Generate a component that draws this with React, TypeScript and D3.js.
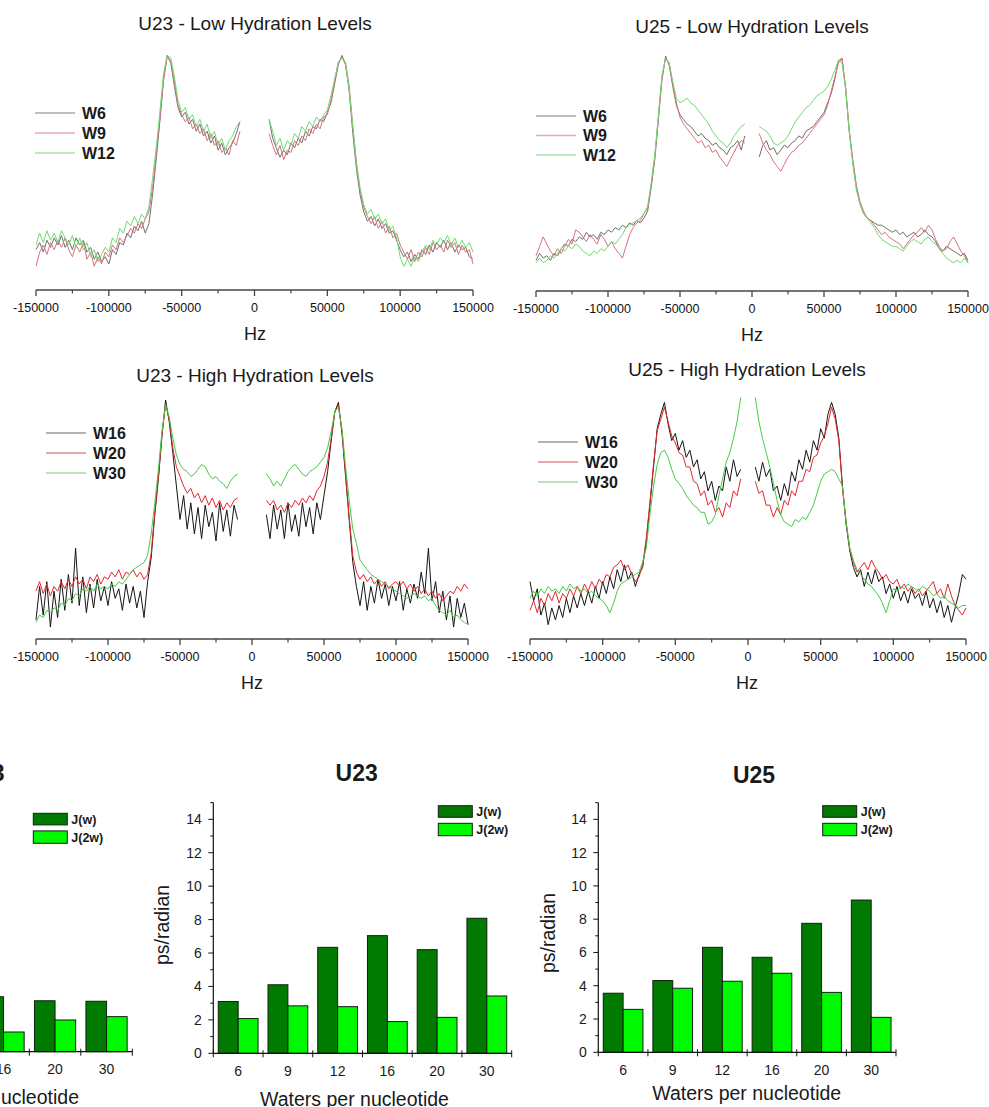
import React from "react";
import * as d3 from "d3";

const W = 989;
const H = 1107;
const FONT = '"Liberation Sans", Arial, Helvetica, sans-serif';

// ---- spectra: frequency grid (2.5 kHz steps), intensities 0 = axis, 100 = peak
const HZ = d3.range(-150000, 150001, 2500);
const HZ_TICKS = [-150000, -100000, -50000, 0, 50000, 100000, 150000];
const HZ_MINOR = [-125000, -75000, -25000, 25000, 75000, 125000];

const _ = null;

const U23_LOW_W6 = [
  17, 20, 16, 21, 18, 22, 19, 23, 18, 21,
  17, 22, 19, 21, 16, 18, 13, 16, 12, 14,
  11, 17, 15, 20, 19, 24, 22, 27, 25, 29,
  24, 28, 40, 55, 71, 88, 99, 96, 86, 77,
  73, 75, 70, 72, 67, 70, 65, 67, 62, 65,
  59, 62, 57, 60, 62, 66, 71, _, _, _,
  _, _, _, _, 72, 64, 60, 56, 59, 57,
  62, 60, 64, 62, 67, 65, 69, 68, 72, 71,
  75, 79, 87, 95, 99, 95, 84, 66, 51, 40,
  33, 29, 31, 27, 30, 26, 28, 24, 25, 21,
  17, 14, 16, 12, 15, 13, 17, 15, 19, 16,
  20, 18, 21, 17, 20, 16, 19, 17, 18, 14,
  13,
];
const U23_LOW_W9 = [
  10, 16, 19, 15, 20, 17, 21, 18, 22, 17,
  14, 19, 16, 20, 13, 16, 10, 14, 11, 16,
  14, 19, 17, 22, 20, 23, 26, 24, 28, 26,
  30, 33, 43, 57, 72, 89, 98, 97, 88, 78,
  74, 71, 73, 68, 70, 66, 68, 63, 66, 61,
  63, 58, 60, 57, 63, 61, 67, _, _, _,
  _, _, _, _, 66, 61, 57, 61, 55, 59,
  58, 63, 61, 65, 63, 68, 66, 70, 68, 73,
  74, 80, 88, 96, 98, 96, 86, 69, 54, 42,
  35, 31, 28, 31, 26, 29, 24, 27, 22, 24,
  19, 16, 13, 17, 12, 16, 14, 18, 15, 20,
  17, 19, 16, 21, 18, 20, 15, 19, 16, 17,
  11,
];
const U23_LOW_W12 = [
  19, 24, 20, 25, 21, 24, 20, 25, 22, 19,
  23, 18, 22, 17, 20, 14, 17, 12, 15, 18,
  16, 22, 20, 26, 24, 29, 27, 31, 28, 32,
  30, 35, 47, 60, 75, 91, 99, 98, 90, 80,
  75, 77, 72, 74, 69, 72, 67, 70, 64, 67,
  61, 64, 59, 63, 65, 69, 71, _, _, _,
  _, _, _, _, 72, 67, 61, 64, 59, 63,
  61, 66, 64, 69, 67, 71, 69, 73, 71, 74,
  76, 82, 89, 96, 98, 95, 85, 69, 53, 43,
  36, 32, 34, 30, 32, 28, 30, 25, 27, 22,
  14, 10, 13, 10, 14, 12, 16, 19, 17, 21,
  19, 22, 20, 23, 19, 22, 18, 21, 18, 20,
  16,
];

const U25_LOW_W6 = [
  13, 16, 14, 15, 13, 16, 15, 18, 20, 19,
  22, 21, 23, 22, 25, 23, 24, 22, 25, 24,
  26, 25, 27, 26, 28, 27, 29, 28, 30, 29,
  31, 34, 44, 56, 73, 90, 100, 96, 87, 79,
  75, 73, 71, 70, 68, 66, 67, 65, 64, 62,
  63, 61, 60, 58, 61, 62, 64, 60, 66, _,
  _, _, 57, 62, 64, 60, 61, 58, 60, 62,
  61, 63, 64, 66, 65, 68, 69, 70, 72, 74,
  76, 80, 84, 90, 98, 99, 86, 68, 55, 44,
  37, 33, 31, 30, 29, 28, 28, 27, 26, 25,
  26, 24, 25, 23, 24, 25, 23, 24, 26, 24,
  23, 21, 18, 17, 19, 18, 17, 16, 15, 16,
  13,
];
const U25_LOW_W9 = [
  15, 19, 23, 20, 17, 15, 18, 16, 19, 22,
  20, 26, 25, 23, 21, 24, 22, 20, 24, 22,
  19, 21, 18, 16, 14, 19, 24, 27, 29, 30,
  33, 35, 45, 57, 74, 91, 99, 97, 88, 80,
  74, 71, 69, 67, 65, 63, 64, 61, 62, 59,
  60, 57, 55, 53, 56, 59, 62, 64, 63, _,
  _, _, 67, 63, 60, 58, 55, 53, 51, 54,
  57, 59, 60, 62, 63, 65, 67, 69, 71, 73,
  75, 79, 85, 91, 97, 99, 87, 69, 56, 45,
  38, 34, 31, 30, 28, 26, 24, 25, 23, 22,
  21, 20, 18, 20, 22, 24, 25, 27, 25, 28,
  26, 22, 19, 17, 18, 21, 23, 20, 17, 15,
  12,
];
const U25_LOW_W12 = [
  12, 14, 12, 13, 15, 14, 16, 18, 17, 19,
  18, 20, 19, 17, 16, 15, 17, 16, 18, 17,
  19, 21, 20, 22, 24, 27, 28, 29, 30, 31,
  33, 36, 46, 58, 75, 92, 99, 97, 89, 82,
  80, 81, 82, 80, 79, 77, 75, 73, 71, 68,
  66, 64, 63, 61, 63, 66, 68, 70, 71, _,
  _, _, 70, 69, 68, 66, 63, 62, 63, 64,
  66, 69, 72, 74, 76, 78, 79, 81, 83, 84,
  85, 87, 90, 94, 98, 97, 86, 68, 54, 43,
  37, 33, 31, 29, 27, 24, 22, 21, 20, 19,
  19, 18, 17, 19, 21, 22, 21, 20, 22, 23,
  21, 20, 18, 16, 14, 13, 12, 13, 12, 14,
  12,
];

const U23_HIGH_W16 = [
  8, 22, 10, 24, 5, 20, 9, 25, 12, 27,
  15, 38, 14, 26, 11, 23, 13, 25, 16, 22,
  14, 24, 17, 21, 12, 23, 15, 22, 13, 20,
  9, 24, 34, 52, 67, 85, 100, 91, 78, 64,
  50, 60, 46, 57, 44, 55, 42, 56, 47, 53,
  41, 57, 45, 54, 43, 56, 50, _, _, _,
  _, _, _, _, 52, 42, 56, 46, 54, 42,
  57, 45, 52, 43, 57, 47, 55, 44, 57, 50,
  60, 70, 83, 95, 99, 86, 68, 50, 32, 22,
  14, 24, 12, 22, 15, 25, 17, 23, 14, 22,
  16, 24, 12, 21, 15, 23, 17, 28, 19, 38,
  16, 24, 11, 20, 8, 18, 5, 17, 9, 15,
  6,
];
const U23_HIGH_W20 = [
  20, 24, 19, 23, 18, 22, 20, 24, 21, 25,
  22, 26, 23, 25, 21, 26, 24, 27, 23, 26,
  25, 28, 26, 29, 25, 28, 27, 29, 26, 28,
  25, 27, 36, 53, 68, 86, 98, 92, 80, 72,
  68, 64, 61, 63, 59, 61, 57, 60, 56, 59,
  55, 58, 54, 57, 55, 58, 59, _, _, _,
  _, _, _, _, 58, 56, 58, 54, 56, 53,
  57, 55, 58, 56, 59, 57, 60, 58, 62, 64,
  68, 74, 84, 95, 98, 87, 69, 51, 35, 28,
  25, 27, 24, 26, 23, 25, 22, 24, 21, 23,
  24, 22, 24, 21, 23, 20, 22, 19, 21, 18,
  20, 17, 19, 16, 18, 20, 19, 22, 20, 23,
  21,
];
const U23_HIGH_W30 = [
  7, 10, 9, 12, 11, 13, 12, 15, 14, 17,
  16, 19, 18, 21, 20, 22, 20, 23, 21, 22,
  21, 23, 22, 24, 23, 25, 27, 29, 30, 31,
  32, 35, 44, 57, 71, 87, 98, 93, 84, 77,
  73, 71, 70, 68, 69, 71, 73, 72, 69, 67,
  68, 66, 65, 63, 66, 68, 69, _, _, _,
  _, _, _, _, 69, 67, 64, 66, 64, 67,
  70, 72, 73, 71, 69, 68, 70, 71, 72, 74,
  76, 80, 87, 95, 97, 88, 72, 58, 46, 40,
  33, 31, 29, 27, 26, 25, 24, 23, 22, 21,
  20, 19, 18, 17, 18, 19, 18, 17, 18, 16,
  17, 14, 12, 11, 10, 12, 9, 10, 8, 7,
  6,
];

const U25_HIGH_W16 = [
  24, 16, 21, 10, 15, 6, 13, 8, 14, 9,
  17, 11, 18, 13, 19, 14, 20, 15, 22, 17,
  24, 19, 26, 21, 29, 24, 31, 25, 28, 22,
  27, 30, 41, 56, 72, 88, 94, 99, 90, 83,
  86, 79, 83, 76, 79, 72, 75, 67, 70, 62,
  66, 58, 64, 62, 72, 66, 75, 68, 71, _,
  _, _, 72, 66, 74, 68, 71, 62, 64, 58,
  65, 60, 70, 66, 75, 71, 79, 74, 83, 79,
  88, 84, 94, 99, 94, 84, 64, 48, 37, 30,
  26, 29, 22, 28, 23, 29, 24, 26, 19, 23,
  17, 22, 16, 20, 15, 21, 17, 19, 14, 20,
  13, 17, 11, 16, 9, 14, 7, 13, 19, 27,
  25,
];
const U25_HIGH_W20 = [
  12, 16, 11, 17, 14, 19, 16, 20, 15, 19,
  17, 21, 18, 22, 19, 23, 20, 24, 21, 25,
  23, 27, 26, 30, 31, 33, 29, 31, 27, 24,
  26, 31, 42, 57, 73, 87, 92, 97, 91, 85,
  82, 78, 77, 72, 72, 66, 65, 60, 62, 56,
  58, 53, 55, 51, 57, 55, 62, 60, 67, _,
  _, _, 66, 61, 62, 56, 56, 51, 55, 52,
  58, 56, 62, 60, 66, 66, 71, 70, 76, 77,
  82, 85, 90, 97, 92, 83, 63, 49, 38, 32,
  28, 30, 32, 29, 33, 30, 28, 25, 27, 24,
  23, 25, 21, 23, 20, 22, 19, 21, 18, 20,
  22, 24, 19, 21, 17, 23, 18, 14, 12, 10,
  13,
];
const U25_HIGH_W30 = [
  17, 20, 18, 21, 19, 22, 20, 21, 19, 22,
  20, 23, 21, 22, 20, 21, 19, 20, 18, 17,
  16, 14, 11, 15, 20, 23, 24, 25, 26, 27,
  28, 32, 38, 52, 64, 73, 78, 79, 76, 71,
  67, 65, 63, 60, 58, 56, 55, 53, 53, 48,
  49, 52, 60, 67, 74, 78, 84, 91, 101, _,
  _, _, 101, 91, 84, 78, 72, 65, 58, 52,
  49, 48, 47, 50, 49, 51, 50, 53, 56, 61,
  66, 69, 70, 71, 70, 67, 64, 49, 38, 33,
  29, 27, 25, 23, 22, 20, 18, 15, 11, 16,
  21, 20, 22, 21, 23, 22, 21, 20, 22, 21,
  20, 18, 19, 17, 18, 16, 15, 14, 13, 14,
  14,
];

// ---- relaxation bar charts
const WATERS = ["6", "9", "12", "16", "20", "30"];
const U23_JW = [3.1, 4.1, 6.34, 7.04, 6.2, 8.08];
const U23_J2W = [2.08, 2.84, 2.79, 1.9, 2.15, 3.43];
const U25_JW = [3.55, 4.31, 6.31, 5.71, 7.75, 9.15];
const U25_J2W = [2.58, 3.85, 4.27, 4.75, 3.6, 2.1];
// left chart is cut by the page edge: only 16, 20, 30 are visible
const LEFT_JW = [null, null, null, 3.29, 3.05, 3.02];
const LEFT_J2W = [null, null, null, 1.18, 1.9, 2.1];
const Y_MAX = 15;

const LOW_COLORS = { line: ["#707070", "#dc6f7c", "#6fdc6f"], legend: ["#a8a8a8", "#e7aab4", "#a8e4a8"] };
const HIGH_COLORS = { line: ["#151515", "#e2282e", "#44cc44"], legend: ["#9a9a9a", "#dc8a90", "#9edc9e"] };

const PANELS = [
  {
    title: "U23 - Low Hydration Levels", titleX: 255, titleY: 30,
    x0: 36, x1: 473, axisY: 290, peakY: 53, hzX: 255, lw: 1,
    legendX: 35, legendY: 113, legendGap: 20, colors: LOW_COLORS,
    names: ["W6", "W9", "W12"], data: [U23_LOW_W6, U23_LOW_W9, U23_LOW_W12],
  },
  {
    title: "U25 - Low Hydration Levels", titleX: 752, titleY: 33,
    x0: 536, x1: 968, axisY: 291, peakY: 56, hzX: 752, lw: 1,
    legendX: 536, legendY: 116, legendGap: 19.5, colors: LOW_COLORS,
    names: ["W6", "W9", "W12"], data: [U25_LOW_W6, U25_LOW_W9, U25_LOW_W12],
  },
  {
    title: "U23 - High Hydration Levels", titleX: 255, titleY: 382,
    x0: 36, x1: 468, axisY: 639, peakY: 400, hzX: 252, lw: 1,
    legendX: 46, legendY: 433, legendGap: 20, colors: HIGH_COLORS,
    names: ["W16", "W20", "W30"], data: [U23_HIGH_W16, U23_HIGH_W20, U23_HIGH_W30],
  },
  {
    title: "U25 - High Hydration Levels", titleX: 747, titleY: 376,
    x0: 530, x1: 966, axisY: 639, peakY: 400, hzX: 747, lw: 1,
    legendX: 538, legendY: 442, legendGap: 20, colors: HIGH_COLORS,
    names: ["W16", "W20", "W30"], data: [U25_HIGH_W16, U25_HIGH_W20, U25_HIGH_W30],
  },
];

const BARS = [
  {
    title: "U23", titleX: 4.5, titleAnchor: "end", titleY: 781,
    x0: -176.7, x1: 132.3, y0: 1051.7, yTop: 801.2,
    jw: LEFT_JW, j2w: LEFT_J2W, legendX: 33.3, legendY: 813.3,
    yLabelX: null, yLabelY: 0, xTitleX: 79, xTitleAnchor: "end", xTitleY: 1103.5, showYAxis: false,
  },
  {
    title: "U23", titleX: 356.7, titleAnchor: "middle", titleY: 781,
    x0: 213.3, x1: 511.7, y0: 1053.3, yTop: 802.6,
    jw: U23_JW, j2w: U23_J2W, legendX: 438.3, legendY: 805.7,
    yLabelX: 161.7, yLabelY: 925, xTitleX: 354.5, xTitleAnchor: "middle", xTitleY: 1105.5, showYAxis: true,
  },
  {
    title: "U25", titleX: 754, titleAnchor: "middle", titleY: 783,
    x0: 598.3, x1: 896, y0: 1052.3, yTop: 802.7,
    jw: U25_JW, j2w: U25_J2W, legendX: 822.7, legendY: 805.7,
    yLabelX: 548.3, yLabelY: 933, xTitleX: 746.7, xTitleAnchor: "middle", xTitleY: 1099.5, showYAxis: true,
  },
];

const DARK = "#007a00";
const LIGHT = "#00f800";

function Spectrum({ p }: { p: any }) {
  const x = d3.scaleLinear().domain([-150000, 150000]).range([p.x0, p.x1]);
  const y = d3.scaleLinear().domain([0, 100]).range([p.axisY, p.peakY]);
  const line = d3
    .line<number | null>()
    .defined((v) => v != null)
    .x((_v, i) => x(HZ[i]))
    .y((v) => y(v as number));

  return (
    <g fontFamily={FONT}>
      <text x={p.titleX} y={p.titleY} textAnchor="middle" fontSize={19} fill="#1a1a1a">
        {p.title}
      </text>

      {p.data.map((vals: (number | null)[], k: number) => (
        <path
          key={k}
          d={line(vals) || ""}
          fill="none"
          stroke={p.colors.line[k]}
          strokeWidth={p.lw}
          strokeLinejoin="round"
        />
      ))}

      {/* legend */}
      {p.names.map((n: string, k: number) => {
        const ly = p.legendY + k * p.legendGap;
        return (
          <g key={n}>
            <line x1={p.legendX} x2={p.legendX + 40} y1={ly} y2={ly} stroke={p.colors.legend[k]} strokeWidth={1.3} />
            <text x={p.legendX + 47} y={ly + 5.8} fontSize={16} fontWeight="bold" fill="#1a1a1a">
              {n}
            </text>
          </g>
        );
      })}

      {/* x axis */}
      <line x1={p.x0} x2={p.x1} y1={p.axisY} y2={p.axisY} stroke="#444" strokeWidth={1.5} />
      {HZ_TICKS.map((t) => (
        <g key={t}>
          <line x1={x(t)} x2={x(t)} y1={p.axisY} y2={p.axisY + 6} stroke="#444" strokeWidth={1.3} />
          <text x={x(t)} y={p.axisY + 21.5} textAnchor="middle" fontSize={12.5} fill="#111">
            {t}
          </text>
        </g>
      ))}
      {HZ_MINOR.map((t) => (
        <line key={t} x1={x(t)} x2={x(t)} y1={p.axisY} y2={p.axisY + 3.5} stroke="#444" strokeWidth={1.2} />
      ))}
      <text x={p.hzX} y={p.axisY + 49.5} textAnchor="middle" fontSize={18} fill="#1a1a1a">
        Hz
      </text>
    </g>
  );
}

function BarChart({ c }: { c: any }) {
  const xb = d3.scaleBand().domain(WATERS).range([c.x0, c.x1]).paddingInner(0.2).paddingOuter(0.1);
  const xs = d3.scaleBand().domain(["jw", "j2w"]).range([0, xb.bandwidth()]);
  const y = d3.scaleLinear().domain([0, Y_MAX]).range([c.y0, c.yTop]);
  const bounds = d3.range(WATERS.length + 1).map((i) => c.x0 + i * xb.step());

  const bars: { key: string; x: number; v: number; fill: string }[] = [];
  WATERS.forEach((w, i) => {
    if (c.jw[i] != null) bars.push({ key: w + "a", x: (xb(w) as number) + (xs("jw") as number), v: c.jw[i], fill: DARK });
    if (c.j2w[i] != null) bars.push({ key: w + "b", x: (xb(w) as number) + (xs("j2w") as number), v: c.j2w[i], fill: LIGHT });
  });
  // only label categories that fall on the page
  const labelled = WATERS.filter((w) => (xb(w) as number) + xb.bandwidth() / 2 > -15);

  return (
    <g fontFamily={FONT} fill="#1a1a1a">
      <text x={c.titleX} y={c.titleY} textAnchor={c.titleAnchor} fontSize={23} fontWeight="bold">
        {c.title}
      </text>

      {bars.map((b) => (
        <rect
          key={b.key}
          x={b.x}
          y={y(b.v)}
          width={xs.bandwidth()}
          height={c.y0 - y(b.v)}
          fill={b.fill}
          stroke="#102010"
          strokeWidth={1}
        />
      ))}

      {/* y axis */}
      {c.showYAxis && (
        <g>
          <line x1={c.x0} x2={c.x0} y1={c.y0} y2={c.yTop} stroke="#111" strokeWidth={1.2} />
          {d3.range(0, Y_MAX + 1).map((t) => (
            <line
              key={t}
              x1={c.x0 - (t % 2 === 0 ? 5 : 3)}
              x2={c.x0}
              y1={y(t)}
              y2={y(t)}
              stroke="#111"
              strokeWidth={1}
            />
          ))}
          {d3.range(0, Y_MAX, 2).map((t) => (
            <text key={t} x={c.x0 - 11.5} y={y(t) + 5} textAnchor="end" fontSize={14}>
              {t}
            </text>
          ))}
        </g>
      )}

      {/* x axis */}
      <line x1={Math.max(c.x0, -10)} x2={c.x1} y1={c.y0} y2={c.y0} stroke="#111" strokeWidth={1.2} />
      {bounds.map((bx, i) => (
        <line key={i} x1={bx} x2={bx} y1={c.y0 - 3} y2={c.y0 + 4} stroke="#111" strokeWidth={1} />
      ))}
      {labelled.map((w) => (
        <text key={w} x={(xb(w) as number) + xb.bandwidth() / 2} y={c.y0 + 22.5} textAnchor="middle" fontSize={14}>
          {w}
        </text>
      ))}

      {c.yLabelX != null && (
        <text
          transform={`translate(${c.yLabelX},${c.yLabelY}) rotate(-90)`}
          textAnchor="middle"
          dy="0.35em"
          fontSize={19.5}
        >
          ps/radian
        </text>
      )}
      <text x={c.xTitleX} y={c.xTitleY} textAnchor={c.xTitleAnchor} fontSize={19.5}>
        Waters per nucleotide
      </text>

      {/* legend */}
      <rect x={c.legendX} y={c.legendY} width={34} height={11.6} fill={DARK} stroke="#102010" strokeWidth={1} />
      <rect x={c.legendX} y={c.legendY + 17.6} width={34} height={12.4} fill={LIGHT} stroke="#102010" strokeWidth={1} />
      <text x={c.legendX + 38} y={c.legendY + 10.5} fontSize={12.5} fontWeight="bold">
        J(w)
      </text>
      <text x={c.legendX + 38} y={c.legendY + 28.5} fontSize={12.5} fontWeight="bold">
        J(2w)
      </text>
    </g>
  );
}

export default function App() {
  return (
    <svg
      width={W}
      height={H}
      viewBox={`0 0 ${W} ${H}`}
      style={{ position: "absolute", left: 0, top: 0, display: "block" }}
    >
      <rect x={0} y={0} width={W} height={H} fill="#fff" />
      {PANELS.map((p) => (
        <Spectrum key={p.title} p={p} />
      ))}
      {BARS.map((c, i) => (
        <BarChart key={i} c={c} />
      ))}
    </svg>
  );
}
